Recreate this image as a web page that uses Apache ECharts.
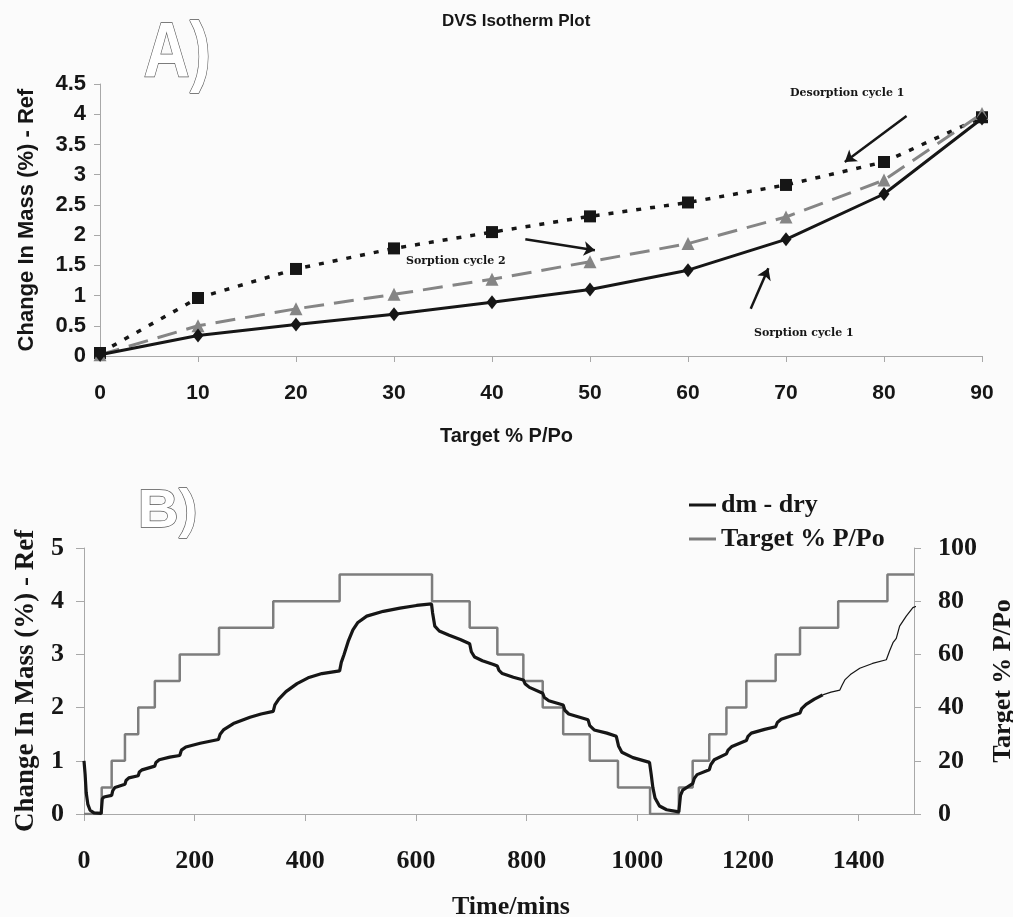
<!DOCTYPE html>
<html>
<head>
<meta charset="utf-8">
<script src="https://cdn.jsdelivr.net/npm/echarts@6/dist/echarts.min.js"></script>
<style>
  html, body { margin: 0; padding: 0; background: #fbfbfb; }
  #chart { width: 1013px; height: 917px; }
</style>
</head>
<body>
<div id="chart"></div>
<script>
// --- panel A: isotherm ---
const targetPP = [0, 10, 20, 30, 40, 50, 60, 70, 80, 90];
const sorption1 = [0.02, 0.34, 0.52, 0.69, 0.89, 1.10, 1.42, 1.93, 2.68, 3.93];
const desorption1 = [0.05, 0.96, 1.44, 1.78, 2.05, 2.31, 2.54, 2.83, 3.21, 3.95];
const sorption2 = [0.02, 0.50, 0.78, 1.02, 1.27, 1.56, 1.86, 2.30, 2.91, 4.01];

// annotation arrows, in data units [x, y]
const arrowFrom = [[82.3, 3.97], [43.4, 1.93], [66.4, 0.78]];
const arrowTo = [[76.0, 3.21], [50.5, 1.75], [68.2, 1.45]];

// --- panel B: kinetics ---
const stepTime = [0, 32, 50, 74, 98, 128, 173, 244, 342, 462, 629, 697, 747, 794, 829, 866, 914, 965,
  1023, 1075, 1100, 1130, 1161, 1197, 1250, 1294, 1363, 1452, 1500];
const stepTarget = [0, 10, 20, 30, 40, 50, 60, 70, 80, 90, 80, 70, 60, 50, 40, 30, 20, 10,
  0, 10, 20, 30, 40, 50, 60, 70, 80, 90, 90];

const dmTime = [0, 2, 4, 7, 11, 18, 31, 33, 36, 50, 52, 56, 74, 76, 81, 98, 100, 105, 128,
  130, 136, 155, 173, 176, 184, 210, 243, 246, 252, 270, 300, 320, 342,
  345, 352, 365, 385, 405, 430, 462, 465, 470, 478, 486, 495, 511, 541, 571, 601, 628,
  630, 634, 642, 660, 680, 697, 700, 706, 720, 740, 747, 750, 756, 776, 794,
  797, 805, 829, 832, 840, 866, 869, 876, 911, 914, 922, 945, 962, 966, 972, 992, 1022,
  1025, 1028, 1032, 1040, 1053, 1075, 1078, 1082, 1100, 1103, 1108, 1130, 1133, 1139, 1161,
  1164, 1171, 1197, 1200, 1206, 1230, 1250, 1253, 1260, 1294, 1297, 1305, 1320, 1335];
const dmValue = [1.0, 0.75, 0.4, 0.18, 0.07, 0.02, 0.01, 0.28, 0.32, 0.35, 0.44, 0.5, 0.56, 0.63, 0.68, 0.72, 0.79, 0.83, 0.90,
  0.97, 1.02, 1.07, 1.10, 1.20, 1.26, 1.33, 1.40, 1.50, 1.58, 1.70, 1.82, 1.88, 1.93,
  2.05, 2.16, 2.30, 2.45, 2.56, 2.64, 2.69, 2.85, 3.0, 3.26, 3.46, 3.60, 3.72, 3.81, 3.87, 3.92, 3.95,
  3.78, 3.53, 3.44, 3.36, 3.28, 3.20, 3.05, 2.95, 2.88, 2.81, 2.78, 2.70, 2.64, 2.57, 2.52,
  2.45, 2.38, 2.27, 2.19, 2.13, 2.05, 1.95, 1.88, 1.77, 1.66, 1.58, 1.52, 1.46, 1.28, 1.16, 1.06, 0.97,
  0.75, 0.50, 0.30, 0.15, 0.08, 0.04, 0.35, 0.45, 0.57, 0.67, 0.74, 0.83, 0.93, 1.02, 1.13,
  1.20, 1.27, 1.38, 1.46, 1.52, 1.59, 1.64, 1.72, 1.78, 1.90, 1.98, 2.06, 2.16, 2.24];
// last part of the trace is drawn thin in the original
const dmTimeThin = [1335, 1350, 1366, 1370, 1375, 1385, 1402, 1425, 1450, 1456, 1462, 1468, 1474, 1486, 1498, 1512];
const dmValueThin = [2.24, 2.29, 2.33, 2.42, 2.52, 2.62, 2.74, 2.83, 2.90, 3.07, 3.22, 3.30, 3.53, 3.72, 3.88, 3.94];

function zip(xs, ys) {
  return xs.map(function (x, i) { return [x, ys[i]]; });
}

const sans = '"Liberation Sans", Arial, sans-serif';
const serif = '"Liberation Serif", "Times New Roman", serif';
const ink = '#161616';
const grey = '#858585';
const axisGrey = '#a8a8a8';

var myChart = echarts.init(document.getElementById('chart'));

var arrows = arrowFrom.map(function (p, i) {
  return [{ coord: p }, { coord: arrowTo[i] }];
});

var option = {
  animation: false,
  backgroundColor: '#fbfbfb',
  title: {
    text: 'DVS Isotherm Plot',
    left: 437,
    top: 8,
    textStyle: { fontFamily: sans, fontWeight: 'bold', fontSize: 17, color: ink }
  },
  legend: {
    data: ['dm - dry', 'Target % P/Po'],
    orient: 'vertical',
    left: 684,
    top: 487,
    icon: 'rect',
    itemWidth: 27,
    itemHeight: 3,
    itemGap: 8,
    textStyle: { fontFamily: serif, fontWeight: 'bold', fontSize: 26, color: ink }
  },
  grid: [
    { left: 100, right: 31, top: 84, height: 272, outerBoundsMode: 'none', containLabel: false },
    { left: 84, right: 99, top: 548, height: 266, outerBoundsMode: 'none', containLabel: false }
  ],
  xAxis: [
    {
      gridIndex: 0, type: 'value', min: 0, max: 90, interval: 10,
      splitLine: { show: false },
      axisLine: { lineStyle: { color: axisGrey } },
      axisTick: { length: 6, lineStyle: { color: axisGrey } },
      axisLabel: { margin: 27, fontFamily: sans, fontWeight: 'bold', fontSize: 21, color: ink }
    },
    {
      gridIndex: 1, type: 'value', min: 0, max: 1500, interval: 200,
      splitLine: { show: false },
      axisLine: { lineStyle: { color: axisGrey } },
      axisTick: { length: 7, lineStyle: { color: axisGrey } },
      axisLabel: {
        margin: 34, showMaxLabel: false, fontFamily: serif, fontWeight: 'bold', fontSize: 26, color: ink,
        formatter: function (v) { return String(v); }
      }
    }
  ],
  yAxis: [
    {
      gridIndex: 0, type: 'value', min: 0, max: 4.5, interval: 0.5,
      name: 'Change In Mass (%) - Ref', nameLocation: 'middle', nameGap: 62,
      nameTextStyle: { fontFamily: sans, fontWeight: 'bold', fontSize: 22, color: ink },
      splitLine: { show: false },
      axisLine: { show: true, lineStyle: { color: axisGrey } },
      axisTick: { show: true, length: 6, lineStyle: { color: axisGrey } },
      axisLabel: { margin: 14, fontFamily: sans, fontWeight: 'bold', fontSize: 22, color: ink }
    },
    {
      gridIndex: 1, type: 'value', min: 0, max: 5, interval: 1,
      name: 'Change In Mass (%) - Ref', nameLocation: 'middle', nameGap: 44,
      nameTextStyle: { fontFamily: serif, fontWeight: 'bold', fontSize: 27, color: ink },
      splitLine: { show: false },
      axisLine: { show: true, lineStyle: { color: axisGrey } },
      axisTick: { show: true, length: 8, lineStyle: { color: axisGrey } },
      axisLabel: { margin: 20, fontFamily: serif, fontWeight: 'bold', fontSize: 26, color: ink }
    },
    {
      gridIndex: 1, type: 'value', min: 0, max: 100, interval: 20, position: 'right',
      name: 'Target % P/Po', nameLocation: 'middle', nameGap: 76,
      nameTextStyle: { fontFamily: serif, fontWeight: 'bold', fontSize: 26, color: ink },
      splitLine: { show: false },
      axisLine: { show: true, lineStyle: { color: axisGrey } },
      axisTick: { show: true, length: 7, lineStyle: { color: axisGrey } },
      axisLabel: { margin: 24, fontFamily: serif, fontWeight: 'bold', fontSize: 26, color: ink }
    }
  ],
  series: [
    {
      name: 'Desorption cycle 1', type: 'line', xAxisIndex: 0, yAxisIndex: 0,
      data: zip(targetPP, desorption1),
      symbol: 'rect', symbolSize: 12, color: ink,
      lineStyle: { color: ink, width: 3.5, type: [5, 9] }
    },
    {
      name: 'Sorption cycle 2', type: 'line', xAxisIndex: 0, yAxisIndex: 0,
      data: zip(targetPP, sorption2),
      symbol: 'triangle', symbolSize: 13, color: grey,
      lineStyle: { color: grey, width: 3, type: [20, 10] }
    },
    {
      name: 'Sorption cycle 1', type: 'line', xAxisIndex: 0, yAxisIndex: 0,
      data: zip(targetPP, sorption1),
      symbol: 'diamond', symbolSize: [11, 14], color: ink,
      lineStyle: { color: ink, width: 3 },
      markLine: {
        silent: true,
        symbol: ['none', 'arrow'],
        symbolSize: 11,
        label: { show: false },
        lineStyle: { color: ink, width: 2.5, type: 'solid' },
        data: arrows
      }
    },
    {
      name: 'Target % P/Po', type: 'line', xAxisIndex: 1, yAxisIndex: 2,
      data: zip(stepTime, stepTarget), step: 'end',
      showSymbol: false, color: '#7d7d7d',
      lineStyle: { color: '#7d7d7d', width: 2.5 }
    },
    {
      name: 'dm - dry', type: 'line', xAxisIndex: 1, yAxisIndex: 1,
      data: zip(dmTime, dmValue), showSymbol: false, color: ink,
      lineStyle: { color: ink, width: 3.2 }
    },
    {
      name: 'dm - dry', type: 'line', xAxisIndex: 1, yAxisIndex: 1,
      data: zip(dmTimeThin, dmValueThin), showSymbol: false, color: ink, clip: false,
      lineStyle: { color: ink, width: 1.2 }
    }
  ],
  graphic: [
    {
      type: 'text', left: 143, top: 16, scaleX: 0.82,
      style: { text: 'A)', font: 'bold 78px ' + sans, fill: '#ffffff', stroke: '#555', lineWidth: 1.4 }
    },
    {
      type: 'text', left: 137, top: 484, scaleX: 1.05,
      style: { text: 'B)', font: 'bold 54px ' + sans, fill: '#ffffff', stroke: '#555', lineWidth: 1.3 }
    },
    {
      type: 'text', left: 440, top: 426,
      style: { text: 'Target % P/Po', font: 'bold 20px ' + sans, fill: ink }
    },
    {
      type: 'text', left: 452, top: 894,
      style: { text: 'Time/mins', font: 'bold 26px ' + serif, fill: ink }
    },
    {
      type: 'text', left: 790, top: 88,
      style: { text: 'Desorption cycle 1', font: 'bold 11px "DejaVu Serif", serif', fill: ink }
    },
    {
      type: 'text', left: 406, top: 256,
      style: { text: 'Sorption cycle 2', font: 'bold 11px "DejaVu Serif", serif', fill: ink }
    },
    {
      type: 'text', left: 754, top: 328,
      style: { text: 'Sorption cycle 1', font: 'bold 11px "DejaVu Serif", serif', fill: ink }
    }
  ]
};

option && myChart.setOption(option);
</script>
</body>
</html>
